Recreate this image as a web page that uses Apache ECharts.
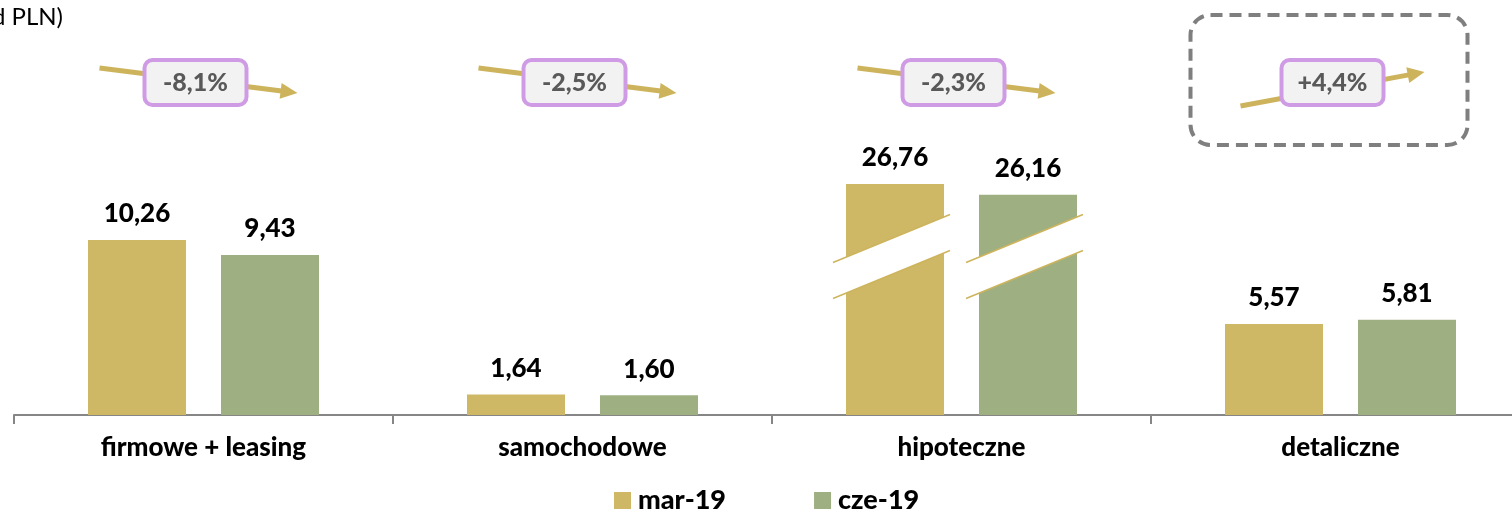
<!DOCTYPE html>
<html>
<head>
<meta charset="utf-8">
<title>Kredyty</title>
<script src="https://cdn.jsdelivr.net/npm/echarts@6.0.0/dist/echarts.min.js"></script>
<style>
  html, body { margin: 0; padding: 0; background: #ffffff; }
  #chart { width: 1512px; height: 520px; }
</style>
</head>
<body>
<div id="chart"></div>
<script>
// Portfolio by loan type (bn PLN), March vs June 2019
const categories = ['firmowe + leasing', 'samochodowe', 'hipoteczne', 'detaliczne'];
const seriesNames = ['mar-19', 'cze-19'];
const mar19 = [10.26, 1.64, 26.76, 5.57];
const cze19 = [9.43, 1.60, 26.16, 5.81];
// quarter-on-quarter change shown above each pair
const changeValues = [-8.1, -2.5, -2.3, 4.4];
const highlighted = [false, false, false, true];
// the mortgage pair is drawn on a broken value axis
const brokenCategory = 2;
const axisBreak = { start: 10.6, end: 24.28, gap: 0.3 };

const GOLD = '#CEB765';
const GREEN = '#9EB082';
const ARROW = '#CDB45C';
const FONT = 'Lato, "Open Sans", sans-serif';
const BAR_W = 98;
const BAR_GAP = 35;

function fmtNum(v) { return v.toFixed(2).replace('.', ','); }
function fmtPct(v) { return (v > 0 ? '+' : '') + v.toFixed(1).replace('.', ',') + '%'; }

function arrow(x1, y1, x2, y2) {
  const dx = x2 - x1, dy = y2 - y1;
  const len = Math.sqrt(dx * dx + dy * dy);
  const ux = dx / len, uy = dy / len;
  const hl = 17, hw = 8;
  const bx = x2 - ux * hl, by = y2 - uy * hl;
  return [
    { type: 'line', shape: { x1: x1, y1: y1, x2: bx + ux, y2: by + uy },
      style: { stroke: ARROW, lineWidth: 5 } },
    { type: 'polygon', shape: { points: [[x2, y2], [bx - uy * hw, by + ux * hw], [bx + uy * hw, by - ux * hw]] },
      style: { fill: ARROW } }
  ];
}

// change badges with trend arrows
function renderChange(params, api) {
  const i = api.value(0);
  const v = api.value(1);
  const cx = api.coord([i, 0.5])[0];
  const kids = [];
  if (highlighted[i]) {
    kids.push({ type: 'rect', shape: { x: cx - 150, y: 15, width: 277, height: 130, r: 20 },
      style: { fill: 'none', stroke: '#7F7F7F', lineWidth: 4, lineDash: [12, 7] } });
  }
  if (v >= 0) {
    kids.push.apply(kids, arrow(cx - 100, 106, cx + 84, 72));
  } else {
    kids.push.apply(kids, arrow(cx - 104, 68, cx + 94, 93));
  }
  const bx = cx - 8;
  kids.push({ type: 'rect', shape: { x: bx - 51, y: 60, width: 102, height: 45, r: 8 },
    style: { fill: '#F2F2F2', stroke: '#CF9BE5', lineWidth: 4 } });
  kids.push({ type: 'text', x: bx, y: 83,
    style: { text: fmtPct(v), fill: '#595959', font: '900 25px ' + FONT, align: 'center', verticalAlign: 'middle' } });
  return { type: 'group', children: kids };
}

// diagonal cut marks over the mortgage bars
function renderCut(params, api) {
  const i = api.value(0);
  const p = api.coord([i, 0.5]);
  const cx = p[0], base = p[1];
  const kids = [];
  [-1, 1].forEach(function (side) {
    const mid = cx + side * (BAR_W + BAR_GAP) / 2;
    const l = mid - BAR_W / 2 - 13, r = mid + BAR_W / 2 + 6;
    const slope = -48 / 117;
    const yu = function (x) { return base - 178 + slope * (x - mid); };
    const yl = function (x) { return yu(x) + 36; };
    kids.push({ type: 'polygon', shape: { points: [[l, yu(l)], [r, yu(r)], [r, yl(r)], [l, yl(l)]] },
      style: { fill: '#ffffff' } });
    kids.push({ type: 'line', shape: { x1: l, y1: yu(l), x2: r, y2: yu(r) }, style: { stroke: ARROW, lineWidth: 1.5 } });
    kids.push({ type: 'line', shape: { x1: l, y1: yl(l), x2: r, y2: yl(r) }, style: { stroke: ARROW, lineWidth: 1.5 } });
  });
  return { type: 'group', children: kids };
}

const barLabel = {
  show: true, position: 'top', distance: 13,
  color: '#000000', fontFamily: FONT, fontWeight: 900, fontSize: 26,
  formatter: function (p) { return fmtNum(p.value); }
};

const chart = echarts.init(document.getElementById('chart'), null, { renderer: 'canvas' });
chart.setOption({
  animation: false,
  backgroundColor: '#ffffff',
  textStyle: { fontFamily: FONT },
  graphic: [{
    type: 'text', right: 1449, top: 5,
    style: { text: '(mld PLN)', fill: '#000000', font: '24px ' + FONT }
  }],
  legend: {
    data: seriesNames,
    bottom: 1, left: 609,
    icon: 'rect', itemWidth: 17, itemHeight: 17, itemGap: 88,
    textStyle: { fontFamily: FONT, fontWeight: 900, fontSize: 27, color: '#000000', padding: [0, 0, 0, 2] }
  },
  grid: { left: 14, width: 1516, top: 126, bottom: 105, containLabel: false, outerBoundsMode: 'none' },
  xAxis: {
    type: 'category',
    data: categories,
    axisLine: { lineStyle: { color: '#868686', width: 2 } },
    axisTick: { show: true, length: 9, lineStyle: { color: '#868686', width: 2 } },
    axisLabel: { color: '#000000', fontFamily: FONT, fontWeight: 900, fontSize: 26, margin: 20 }
  },
  yAxis: {
    type: 'value', min: 0.5, max: 30,
    show: true,
    axisLine: { show: false }, axisTick: { show: false }, axisLabel: { show: false },
    splitLine: { show: false },
    breaks: [axisBreak],
    breakArea: { show: false, itemStyle: { opacity: 0 } }
  },
  series: [
    { name: seriesNames[0], type: 'bar', data: mar19, barWidth: BAR_W, barGap: (BAR_GAP / BAR_W * 100).toFixed(1) + '%',
      itemStyle: { color: GOLD }, label: barLabel },
    { name: seriesNames[1], type: 'bar', data: cze19, barWidth: BAR_W,
      itemStyle: { color: GREEN }, label: barLabel },
    { name: 'cut', type: 'custom', renderItem: renderCut, data: [[brokenCategory, 0.5]],
      encode: { x: 0, y: 1 }, z: 5, clip: false, silent: true },
    { name: 'change', type: 'custom', renderItem: renderChange,
      data: changeValues.map(function (v, i) { return [i, v]; }),
      encode: { x: 0, y: 1 }, z: 6, clip: false, silent: true }
  ]
});
</script>
</body>
</html>
